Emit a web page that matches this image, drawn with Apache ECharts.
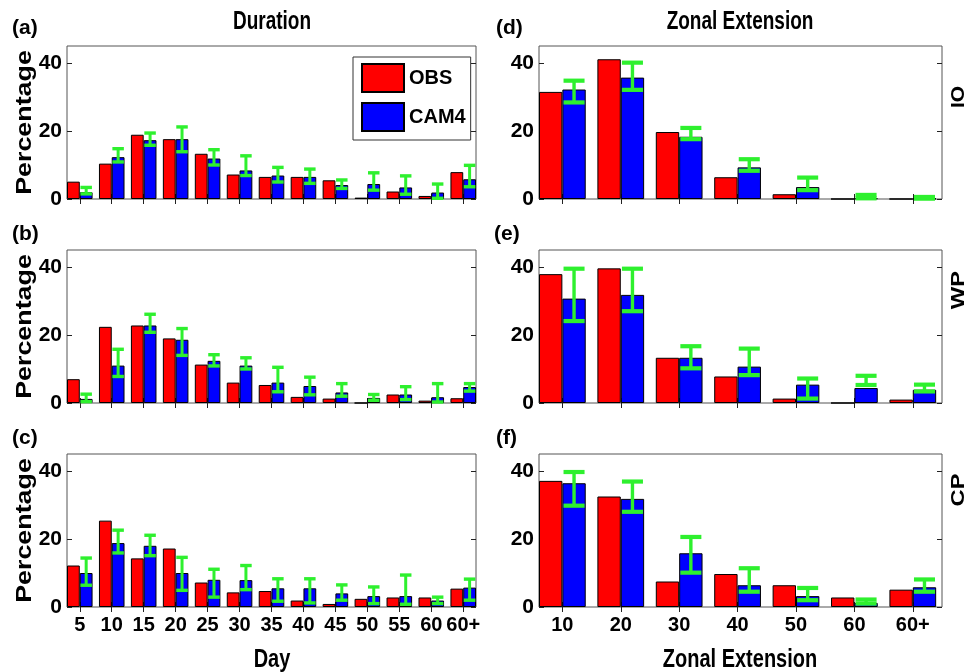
<!DOCTYPE html>
<html>
<head>
<meta charset="utf-8">
<script src="https://cdn.jsdelivr.net/npm/echarts@6/dist/echarts.min.js"></script>
<style>
html,body{margin:0;padding:0;background:#fff;}
#chart{width:979px;height:672px;}
</style>
</head>
<body>
<div id="chart"></div>
<script>
// ---- Data ----
const durLabels = ['5','10','15','20','25','30','35','40','45','50','55','60','60+'];
const zonLabels = ['10','20','30','40','50','60','60+'];
const yTicks = [0, 20, 40];

// (a) IO duration
const obsA = [5.1,10.4,18.9,17.6,13.3,7.2,6.5,6.5,5.5,0.4,2.2,0.9,7.9];
const camA = [2.0,12.3,17.3,17.6,11.9,8.4,6.9,6.5,4.1,4.4,3.4,1.9,5.8];
const loA  = [1.5,10.9,15.8,13.9,10.0,6.9,5.0,4.6,3.1,2.6,1.4,0.2,3.6];
const hiA  = [3.4,14.8,19.4,21.2,14.5,12.7,9.3,8.8,5.6,7.7,6.8,4.4,9.9];
// (b) WP duration
const obsB = [7.0,22.4,22.8,19.0,11.3,6.0,5.3,1.8,1.3,0,2.5,0.7,1.4];
const camB = [1.2,11.0,22.8,18.6,12.4,11.0,6.0,5.0,3.1,1.5,2.5,1.7,4.7];
const loB  = [0.4,7.8,20.8,14.0,10.9,10.0,3.3,2.4,2.0,0.8,1.0,0.3,3.5];
const hiB  = [2.6,15.8,26.1,21.9,14.2,13.3,10.5,7.6,5.7,2.5,4.8,5.7,5.7];
// (c) CP duration
const obsC = [12.2,25.4,14.3,17.2,7.2,4.3,4.7,1.9,0.9,2.4,2.8,2.8,5.4];
const camC = [10.0,18.8,18.0,10.0,8.0,7.9,5.5,5.5,4.0,3.2,3.2,1.9,5.7];
const loC  = [6.4,15.9,15.1,4.9,2.9,5.1,1.7,1.2,2.0,1.0,0.8,1.0,2.0];
const hiC  = [14.4,22.6,21.1,14.6,11.1,12.2,8.3,8.3,6.5,5.9,9.4,2.9,8.2];
// (d) IO zonal extension
const obsD = [31.5,41.1,19.7,6.4,1.4,0,0];
const camD = [32.2,35.7,18.3,9.3,3.5,0.2,0.1];
const loD  = [28.4,32.1,17.6,8.3,2.6,0.2,0.1];
const hiD  = [34.8,40.1,20.9,11.7,6.3,1.2,0.6];
// (e) WP zonal extension
const obsE = [37.9,39.6,13.3,7.8,1.3,0,1.0];
const camE = [30.7,31.8,13.3,10.7,5.4,4.4,3.9];
const loE  = [24.1,27.0,10.2,8.2,1.3,5.3,3.4];
const hiE  = [39.5,39.5,16.7,16.0,7.2,8.0,5.4];
// (f) CP zonal extension
const obsF = [37.1,32.5,7.5,9.7,6.4,2.8,5.1];
const camF = [36.4,31.8,15.8,6.4,3.2,1.2,5.8];
const loF  = [29.8,28.0,10.1,4.5,2.0,1.0,4.5];
const hiF  = [39.7,36.9,20.6,11.4,5.6,2.2,8.1];

// ---- Styling / layout ----
const FONT = "'Liberation Sans', Arial, Helvetica, sans-serif";
const RED = '#ff0000', BLUE = '#0000ff', GREEN = '#2ef02e';

const panels = [
  {obs: obsA, cam: camA, lo: loA, hi: hiA, labels: durLabels, left: 67, top: 46, width: 409, xmax: 13.4, showX: false},
  {obs: obsB, cam: camB, lo: loB, hi: hiB, labels: durLabels, left: 67, top: 250, width: 409, xmax: 13.4, showX: false},
  {obs: obsC, cam: camC, lo: loC, hi: hiC, labels: durLabels, left: 67, top: 454, width: 409, xmax: 13.4, showX: true},
  {obs: obsD, cam: camD, lo: loD, hi: hiD, labels: zonLabels, left: 539, top: 46, width: 403, xmax: 7.5, showX: false},
  {obs: obsE, cam: camE, lo: loE, hi: hiE, labels: zonLabels, left: 539, top: 250, width: 403, xmax: 7.5, showX: false},
  {obs: obsF, cam: camF, lo: loF, hi: hiF, labels: zonLabels, left: 539, top: 454, width: 403, xmax: 7.5, showX: true}
];
const PH = 153;

function errItem(params, api) {
  const x = api.value(0), lo = api.value(1), hi = api.value(2);
  const band = api.size([1, 0])[0];
  const off = band * 0.2;
  const a = api.coord([x, lo]);
  const b = api.coord([x, hi]);
  const cx = a[0] + off;
  const cap = band * 0.18;
  const capW = band > 40 ? 4.2 : 3.4;
  const vW = band > 40 ? 3.4 : 3;
  return {
    type: 'group',
    children: [
      {type: 'line', shape: {x1: cx, y1: a[1], x2: cx, y2: b[1]}, style: {stroke: GREEN, lineWidth: vW}},
      {type: 'line', shape: {x1: cx - cap, y1: a[1], x2: cx + cap, y2: a[1]}, style: {stroke: GREEN, lineWidth: capW}},
      {type: 'line', shape: {x1: cx - cap, y1: b[1], x2: cx + cap, y2: b[1]}, style: {stroke: GREEN, lineWidth: capW}}
    ]
  };
}

const grid = [], xAxis = [], yAxis = [], series = [];
panels.forEach((p, i) => {
  const n = p.labels.length;
  const idx = p.labels.map((_, k) => k + 1);
  grid.push({left: p.left, top: p.top, width: p.width, height: PH, show: true,
    borderColor: '#555', borderWidth: 1, backgroundColor: '#fff', containLabel: false, outerBoundsMode: 'none'});
  xAxis.push({
    type: 'value', gridIndex: i, position: 'bottom', min: 0.6, max: p.xmax,
    axisLine: {show: false}, splitLine: {show: false},
    axisTick: {show: true, inside: true, length: 5, customValues: idx, lineStyle: {color: '#222', width: 1}},
    axisLabel: {show: p.showX, customValues: idx, margin: 8, color: '#000', fontFamily: FONT, fontWeight: 'bold', fontSize: 20,
      formatter: v => p.labels[Math.round(v) - 1]}
  });
  xAxis.push({
    type: 'value', gridIndex: i, position: 'top', min: 0.6, max: p.xmax,
    axisLine: {show: false}, splitLine: {show: false},
    axisTick: {show: true, inside: true, length: 5, customValues: idx, lineStyle: {color: '#222', width: 1}},
    axisLabel: {show: false}
  });
  yAxis.push({
    type: 'value', gridIndex: i, position: 'left', min: 0, max: 45,
    axisLine: {show: false}, splitLine: {show: false},
    axisTick: {show: true, inside: true, length: 5, customValues: yTicks, lineStyle: {color: '#222', width: 1}},
    axisLabel: {show: true, customValues: yTicks, margin: 5, color: '#000', fontFamily: FONT, fontWeight: 'bold', fontSize: 21}
  });
  yAxis.push({
    type: 'value', gridIndex: i, position: 'right', min: 0, max: 45,
    axisLine: {show: false}, splitLine: {show: false},
    axisTick: {show: true, inside: true, length: 5, customValues: yTicks, lineStyle: {color: '#222', width: 1}},
    axisLabel: {show: false}
  });
  series.push({
    name: 'OBS', type: 'bar', xAxisIndex: 2 * i, yAxisIndex: 2 * i,
    barWidth: '40%', barGap: '0%',
    itemStyle: {color: RED, borderColor: '#000', borderWidth: 1},
    data: p.obs.map((v, k) => [k + 1, v]), z: 2
  });
  series.push({
    name: 'CAM4', type: 'bar', xAxisIndex: 2 * i, yAxisIndex: 2 * i,
    barWidth: '40%', barGap: '0%',
    itemStyle: {color: BLUE, borderColor: '#000', borderWidth: 1},
    data: p.cam.map((v, k) => [k + 1, v]), z: 2
  });
  series.push({
    name: 'range', type: 'custom', xAxisIndex: 2 * i, yAxisIndex: 2 * i,
    renderItem: errItem, encode: {x: 0, y: [1, 2]},
    data: p.lo.map((l, k) => [k + 1, l, p.hi[k]]), z: 5, silent: true
  });
});

function txt(text, x, y, size, opts) {
  opts = opts || {};
  return {
    type: 'text', x: x, y: y, rotation: opts.rot || 0, scaleX: opts.sx || 1, scaleY: opts.sy || 1, z: 100,
    style: {text: text, fill: '#000', font: 'bold ' + size + 'px ' + FONT,
      align: opts.align || 'center', verticalAlign: 'middle'}
  };
}

const graphics = [
  txt('(a)', 12, 28, 21, {align: 'left'}),
  txt('(b)', 12, 234, 21, {align: 'left'}),
  txt('(c)', 12, 438, 21, {align: 'left'}),
  txt('(d)', 496, 28, 21, {align: 'left'}),
  txt('(e)', 494, 234, 21, {align: 'left'}),
  txt('(f)', 496, 438, 21, {align: 'left'}),
  txt('Duration', 272, 22, 19, {sy: 1.35}),
  txt('Zonal Extension', 740, 22, 19, {sy: 1.35}),
  txt('Percentage', 25, 46 + PH / 2, 22, {rot: Math.PI / 2, sx: 1.22}),
  txt('Percentage', 25, 250 + PH / 2, 22, {rot: Math.PI / 2, sx: 1.22}),
  txt('Percentage', 25, 454 + PH / 2, 22, {rot: Math.PI / 2, sx: 1.22}),
  txt('IO', 959, 97, 19, {rot: Math.PI / 2, sx: 1.1}),
  txt('WP', 959, 290, 19, {rot: Math.PI / 2, sx: 1.25}),
  txt('CP', 959, 490, 19, {rot: Math.PI / 2, sx: 1.25}),
  txt('Day', 272, 660, 20, {sy: 1.3}),
  txt('Zonal Extension', 740, 660, 20, {sy: 1.3})
];

const chart = echarts.init(document.getElementById('chart'), null, {renderer: 'canvas'});
chart.setOption({
  animation: false,
  backgroundColor: '#fff',
  textStyle: {fontFamily: FONT},
  grid: grid,
  xAxis: xAxis,
  yAxis: yAxis,
  legend: {
    data: ['OBS', 'CAM4'], orient: 'vertical', left: 353, top: 57,
    itemWidth: 42, itemHeight: 28, itemGap: 9, padding: [6, 5, 8, 8],
    borderColor: '#333', borderWidth: 1, backgroundColor: '#fff', z: 50,
    icon: 'rect',
    textStyle: {fontFamily: FONT, fontWeight: 'bold', fontSize: 20, color: '#000'}
  },
  series: series,
  graphic: {elements: graphics}
});
</script>
</body>
</html>
